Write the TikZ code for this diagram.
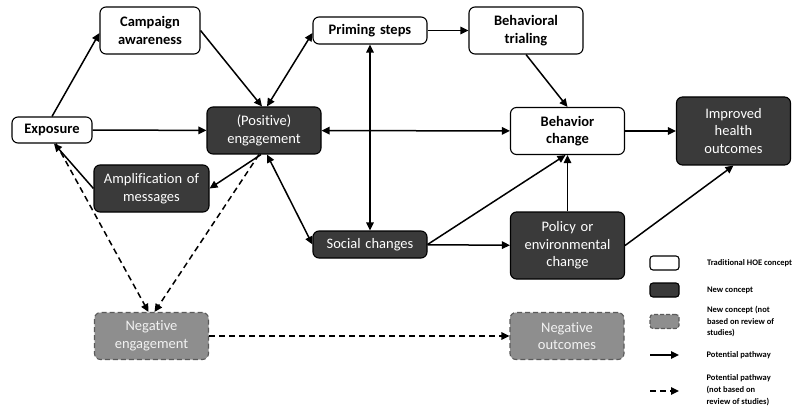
\documentclass[tikz,border=0pt]{standalone}
\usepackage{fontspec}
\setmainfont{Carlito}[Ligatures=NoCommon]
\usetikzlibrary{positioning,arrows.meta}
\definecolor{newfill}{HTML}{3A3A3A}
\definecolor{negfill}{HTML}{8E8E8E}
\definecolor{negline}{HTML}{5A5A5A}
\definecolor{negtext}{HTML}{F2F2F2}

\begin{document}
\begin{tikzpicture}[x=1pt, y=-1pt, >={Triangle[length=8pt,width=7.5pt]}]
% STYLES
\tikzset{%
    concept/.style={%
rectangle,
rounded corners=6pt,
draw,
line width=1.1pt,
inner sep=3pt,
text width=108pt,
align=center,
minimum width=114pt,
minimum height=47pt,
font=\fontsize{14.5}{17.5}\selectfont
                          },
    hoe/.style={concept, fill=white, font=\fontsize{14.5}{17.5}\selectfont\bfseries},
    newc/.style={concept, fill=newfill, text=white},
    negc/.style={concept, fill=negfill, draw=negline, dash pattern=on 5pt off 3pt, text=negtext},
    pathway/.style={line width=1.5pt},
    dpathway/.style={line width=1.5pt, dash pattern=on 6pt off 4pt},
    keybox/.style={rectangle, rounded corners=3pt, minimum width=29pt, minimum height=14pt, line width=1.1pt},
    keytext/.style={align=left, font=\fontsize{8.5}{11.8}\selectfont\bfseries}
             }
\useasboundingbox (0,0) rectangle (800,406);

% Draw concepts
\node [hoe, minimum width=80pt, text width=74pt, minimum height=26pt] (exposure) at (52,130) {Exposure};
\node [hoe, minimum width=100pt, text width=94pt] (awareness) at (150,30.5) {Campaign\\awareness};
\node [newc] (engagement) at (264,130.5) {(Positive)\\engagement};
\node [newc, minimum width=115pt] (amplification) at (151.5,188.5) {Amplification of\\messages};
\node [hoe, minimum height=27pt] (priming) at (370,30.5) {Priming steps};
\node [hoe] (trialing) at (526,30.5) {Behavioral\\trialing};
\node [hoe] (behavior) at (567.5,131) {Behavior\\change};
\node [newc, minimum height=68pt] (health) at (733.5,131) {Improved\\health\\outcomes};
\node [newc, minimum height=27pt] (social) at (370,244.5) {Social changes};
\node [newc, minimum height=67pt] (policy) at (567.5,245.5) {Policy or\\environmental\\change};
\node [negc] (negengage) at (151.5,336) {Negative\\engagement};
\node [negc] (negoutcome) at (567,336) {Negative\\outcomes};

% Draw the links between concepts
\path[->, pathway]
(exposure.north) edge ([yshift=-2.5pt]awareness.west)
(awareness.east) edge ([xshift=-2pt]engagement.north)
(exposure) edge (engagement)
(priming) edge (trialing)
(trialing.south) edge (behavior.north)
(behavior) edge (health)
([xshift=-3pt]engagement.south) edge (amplification.east)
(amplification.west) edge ([xshift=2pt]exposure.south)
(social.east) edge ([xshift=-2pt]behavior.south)
(social) edge (policy)
(policy) edge (behavior)
(policy.east) edge (health.south);
\path[<->, pathway]
([xshift=3pt]engagement.north) edge ([yshift=-2.5pt]priming.west)
(engagement) edge (behavior)
(priming) edge (social)
([xshift=3pt]engagement.south) edge (social.west);
\path[->, dpathway]
([xshift=4pt]exposure.south) edge ([xshift=-3pt]negengage.north)
([xshift=-5pt]engagement.south) edge ([xshift=3pt]negengage.north)
(negengage) edge (negoutcome);

% Draw legend
\node [keybox, draw, fill=white] (keyhoe) at (664.5,263) {};
\node [keybox, draw, fill=newfill] (keynew) at (664.5,290) {};
\node [keybox, draw=negline, fill=negfill, dash pattern=on 4pt off 2pt] (keyneg) at (664.5,321.5) {};
\coordinate (keysolidA) at (650,355);
\coordinate (keysolidB) at (679,355);
\coordinate (keydashA) at (650,391);
\coordinate (keydashB) at (679,391);
\draw [->, pathway] (keysolidA) -- (keysolidB);
\draw [->, dpathway] (keydashA) -- (keydashB);
\node [keytext, right=24pt of keyhoe] (keyhoetext) {Traditional HOE concept};
\node [keytext, right=24pt of keynew] (keynewtext) {New concept};
\node [keytext, right=24pt of keyneg] (keynegtext) {New concept (not\\based on review of\\studies)};
\node [keytext, right=24pt of keysolidB] (keysolidtext) {Potential pathway};
\node [keytext, right=24pt of keydashB, yshift=1pt] (keydashtext) {Potential pathway\\(not based on\\review of studies)};
\end{tikzpicture}
\end{document}
